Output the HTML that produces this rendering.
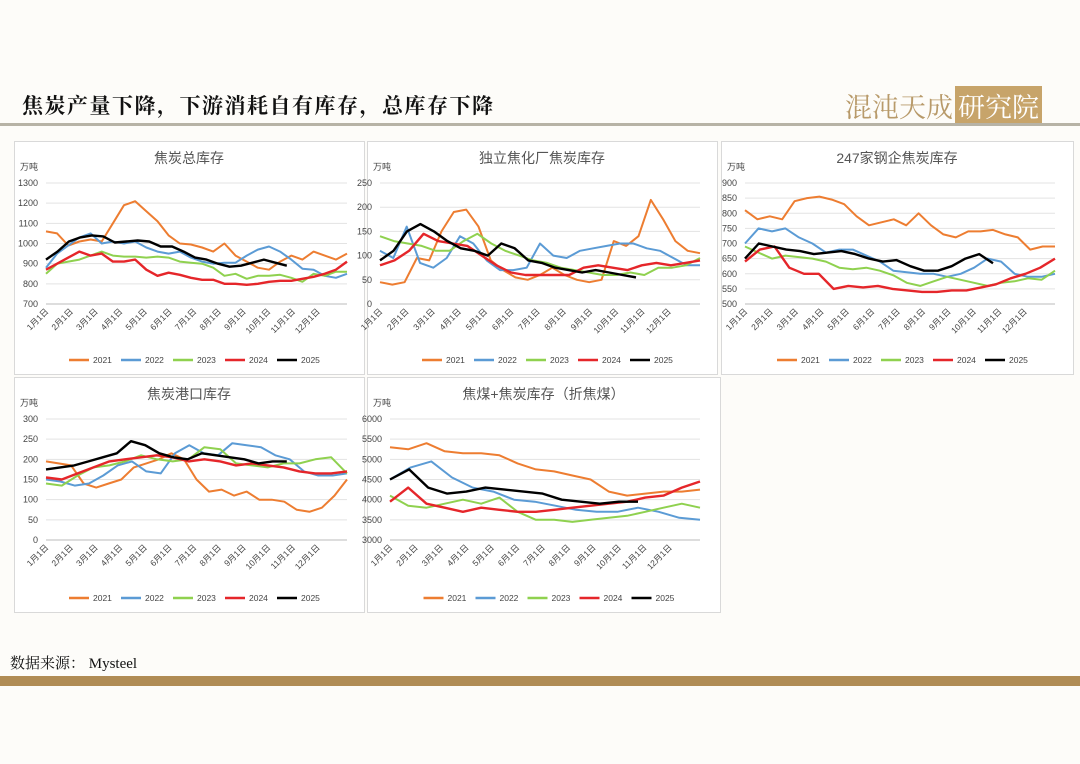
<!DOCTYPE html>
<html><head><meta charset="utf-8"><style>
body{margin:0;width:1080px;height:764px;background:#fdfcf9;position:relative;overflow:hidden;font-family:"Liberation Sans","Noto Sans CJK SC",sans-serif}
.t{position:absolute;left:22px;top:90px;font-size:21px;font-family:"Liberation Serif","Noto Serif CJK SC",serif;font-weight:bold;color:#111;letter-spacing:1.5px}
.logo{position:absolute;left:845px;top:86px;font-size:27px;color:#b89a6a;font-family:"Noto Serif CJK SC",serif;white-space:nowrap}
.logo span{background:#c7a46a;color:#fff;padding:0 3px;margin-left:2px}
.hl{position:absolute;left:0;top:123px;width:1080px;height:3px;background:#b7b3a6}
.src{position:absolute;left:10px;top:652px;font-size:15px;font-family:"Liberation Serif","Noto Serif CJK SC",serif;color:#111}
.bar{position:absolute;left:0;top:676px;width:1080px;height:10px;background:#b08c55}
svg{position:absolute;left:0;top:0}
</style></head><body>
<div class="t">焦炭产量下降，下游消耗自有库存，总库存下降</div>
<div class="logo">混沌天成<span>研究院</span></div>
<div class="hl"></div>
<div class="src">数据来源： Mysteel</div>
<div class="bar"></div>
<svg id="s" width="1080" height="764" xmlns="http://www.w3.org/2000/svg"></svg>
<script>
const C=["#ED7D31","#5B9BD5","#8FD14F","#E5262A","#000"];
const Y=["2021","2022","2023","2024","2025"];
const charts=[
{b:[14,141,350,233],t:"焦炭总库存",px:[46,347],py:[183,304],r:[700,1300],st:100,s:[
[1060,1050,990,1010,1020,1010,1100,1190,1210,1160,1110,1040,1000,995,980,960,1000,940,910,880,870,910,940,920,960,940,920,950],
[880,950,990,1030,1050,1000,1010,1000,1010,980,960,950,960,930,910,900,905,905,940,970,985,960,920,875,870,840,830,850],
[850,900,910,920,940,960,940,935,935,930,935,930,910,905,900,880,840,850,825,840,840,845,830,810,850,840,860,860],
[870,900,930,960,940,950,910,910,920,870,840,855,845,830,820,820,800,800,795,800,810,815,815,825,835,850,870,910],
[920,960,1010,1030,1040,1035,1005,1010,1015,1010,985,985,960,930,920,900,885,890,905,920,905,890]]},
{b:[367,141,350,233],t:"独立焦化厂焦炭库存",px:[380,700],py:[183,304],r:[0,250],st:50,s:[
[45,40,45,95,90,150,190,195,160,90,70,55,50,60,75,60,50,45,50,130,120,140,215,175,130,110,105],
[110,95,160,85,75,95,140,125,90,70,70,75,125,100,95,110,115,120,125,125,115,110,95,80,80],
[140,130,125,120,110,110,130,145,125,110,100,90,85,75,70,65,60,60,65,60,75,75,80,95],
[80,90,110,145,130,125,120,100,80,65,60,60,60,60,75,80,75,70,80,85,80,85,90],
[90,110,150,165,150,130,115,110,100,125,115,90,85,75,70,65,70,65,60,55]]},
{b:[721,141,352,233],t:"247家钢企焦炭库存",px:[745,1055],py:[183,304],r:[500,900],st:50,s:[
[810,780,790,780,840,850,855,845,830,790,760,770,780,760,800,760,730,720,740,740,745,730,720,680,690,690],
[700,750,740,750,720,700,670,680,680,660,640,610,605,600,600,590,600,620,650,640,600,590,590,600],
[690,670,650,660,655,650,640,620,615,620,610,595,570,560,575,590,580,570,560,570,575,585,580,610],
[640,680,690,620,600,600,550,560,555,560,550,545,540,540,545,545,555,565,585,600,620,650],
[650,700,690,680,675,665,670,675,665,650,640,645,625,610,610,625,650,665,635]]},
{b:[14,377,350,235],t:"焦炭港口库存",px:[46,347],py:[419,540],r:[0,300],st:50,s:[
[195,190,185,140,130,140,150,180,190,200,215,200,150,120,125,110,120,100,100,95,75,70,80,110,150],
[150,145,135,140,160,185,195,170,165,215,235,215,210,240,235,230,210,200,170,160,160,165],
[140,135,160,180,185,195,210,200,195,200,230,225,190,185,180,190,190,200,205,165],
[155,150,165,180,195,200,205,210,205,195,200,195,185,190,185,180,170,165,165,170],
[175,180,185,195,205,215,245,235,215,205,200,215,210,205,200,190,195,195]]},
{b:[367,377,353,235],t:"焦煤+焦炭库存（折焦煤）",px:[390,700],py:[419,540],r:[3000,6000],st:500,s:[
[5300,5250,5400,5200,5150,5150,5100,4900,4750,4700,4600,4500,4200,4100,4150,4200,4200,4250],
[4500,4800,4950,4550,4300,4200,4000,3950,3850,3750,3700,3700,3800,3700,3550,3500],
[4100,3850,3800,3900,4000,3900,4050,3700,3500,3500,3450,3500,3550,3600,3700,3800,3900,3800],
[3950,4300,3900,3800,3700,3800,3750,3700,3700,3750,3800,3850,3900,3950,4050,4100,4300,4450],
[4500,4750,4300,4150,4200,4300,4250,4200,4150,4000,3950,3900,3950,3950]]}];
let h="";
charts.forEach(c=>{
 const [bx,by,bw,bh]=c.b,[x0,x1]=c.px,[yt,yb]=c.py,[r0,r1]=c.r;
 h+=`<rect x="${bx+.5}" y="${by+.5}" width="${bw}" height="${bh}" fill="#fff" stroke="#d9d9d9"/>`;
 h+=`<text x="${bx+bw/2}" y="${by+22}" font-size="14" fill="#555" text-anchor="middle">${c.t}</text>`;
 h+=`<text x="${bx+6}" y="${yt-13}" font-size="9" fill="#444">万吨</text>`;
 for(let v=r0;v<=r1;v+=c.st){const y=yb-(v-r0)/(r1-r0)*(yb-yt);
  h+=`<line x1="${x0}" x2="${x1}" y1="${y}" y2="${y}" stroke="#e3e3e3"/>`;
  h+=`<text x="${x0-8}" y="${y+3}" font-size="9" fill="#444" text-anchor="end">${v}</text>`;}
 h+=`<line x1="${x0}" x2="${x1}" y1="${yb}" y2="${yb}" stroke="#bbb"/>`;
 for(let m=0;m<12;m++){const x=x0+m*(x1-x0)/12.2;
  h+=`<text transform="translate(${x+3},${yb+8}) rotate(-45)" font-size="8.5" fill="#444" text-anchor="end">${m+1}月1日</text>`;}
 c.s.forEach((d,i)=>{const w=(x1-x0)*(i==4?0.8:1);
  const p=d.map((v,k)=>(x0+k*w/(d.length-1)).toFixed(1)+","+(yb-(v-r0)/(r1-r0)*(yb-yt)).toFixed(1)).join(" ");
  h+=`<polyline points="${p}" fill="none" stroke="${C[i]}" stroke-width="${i>=3?2.4:2}" stroke-linejoin="round"/>`;});
 const ly=by+bh-14, lx=bx+bw/2-120;
 Y.forEach((y,i)=>{const x=lx+i*52;
  h+=`<line x1="${x}" x2="${x+20}" y1="${ly}" y2="${ly}" stroke="${C[i]}" stroke-width="2.5"/><text x="${x+24}" y="${ly+3}" font-size="8.5" fill="#444">${y}</text>`;});
});
document.getElementById("s").innerHTML=h;
</script>
</body></html>
